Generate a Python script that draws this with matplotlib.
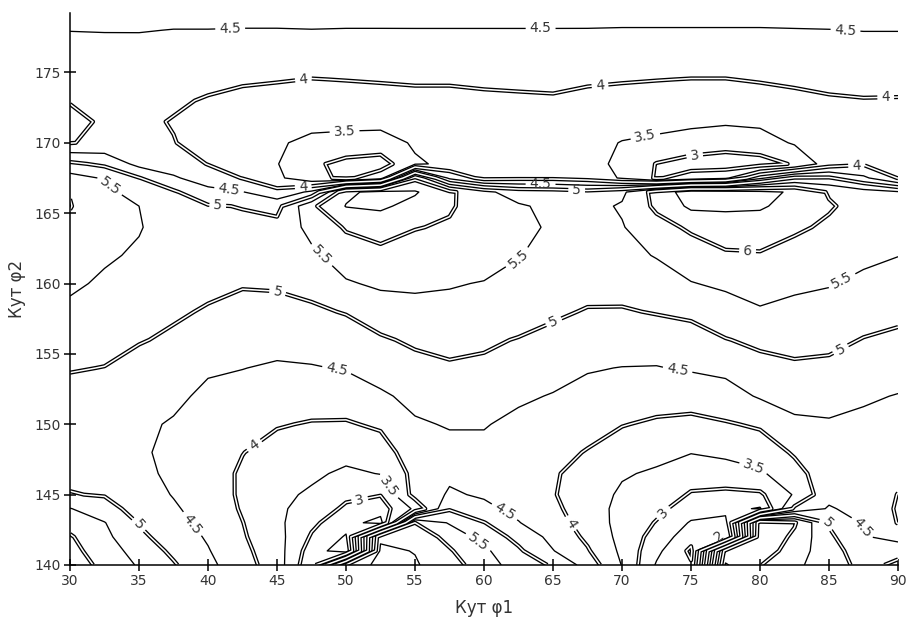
import numpy as np
import matplotlib.pyplot as plt

phi1 = [30, 32.5, 35, 37.5, 40, 42.5, 45, 47.5, 50, 52.5, 55, 57.5, 60,
        62.5, 65, 67.5, 70, 72.5, 75, 77.5, 80, 82.5, 85, 87.5, 90]
phi2 = [140, 141, 142, 143, 144, 145, 146.5, 148, 150, 152, 154, 156, 158,
        160, 162, 164, 165.5, 166.5, 167.5, 168.5, 170, 171.5, 173, 174.5,
        176.5, 178, 179.2]

# one column per phi1 value, from phi2 = 140 up to the top
z_cols = [
    [6.3, 6.15, 6.05, 5.8, 5.52, 5.02, 4.9, 4.8, 4.75, 4.85, 5.03, 5.2, 5.4, 5.58, 5.75, 5.9, 6.02, 5.98, 5.7, 5.1, 3.98, 3.9, 4.02, 4.15, 4.32, 4.51, 4.65],
    [5.85, 5.75, 5.62, 5.52, 5.2, 4.97, 4.85, 4.75, 4.72, 4.82, 4.99, 5.15, 5.3, 5.43, 5.56, 5.65, 5.67, 5.62, 5.45, 4.9, 4.1, 4.05, 4.1, 4.18, 4.34, 4.52, 4.66],
    [5.45, 5.3, 5.12, 4.97, 4.8, 4.68, 4.6, 4.56, 4.6, 4.7, 4.85, 5.03, 5.2, 5.33, 5.44, 5.53, 5.5, 5.3, 5.02, 4.35, 4.12, 4.1, 4.13, 4.2, 4.35, 4.52, 4.66],
    [5.05, 4.9, 4.75, 4.63, 4.55, 4.48, 4.42, 4.4, 4.45, 4.62, 4.78, 4.93, 5.06, 5.17, 5.25, 5.28, 5.2, 5.07, 4.55, 4.3, 4.02, 3.97, 4.08, 4.18, 4.33, 4.49, 4.65],
    [4.62, 4.53, 4.45, 4.38, 4.32, 4.27, 4.2, 4.18, 4.22, 4.38, 4.57, 4.78, 4.96, 5.1, 5.18, 5.15, 5.04, 4.62, 4.3, 3.98, 3.8, 3.78, 3.95, 4.15, 4.33, 4.49, 4.65],
    [4.2, 4.12, 4.05, 4.01, 3.95, 3.92, 3.94, 4.01, 4.15, 4.33, 4.51, 4.72, 4.88, 5.03, 5.12, 5.11, 4.98, 4.52, 3.98, 3.75, 3.62, 3.65, 3.85, 4.07, 4.3, 4.48, 4.65],
    [3.75, 3.72, 3.68, 3.62, 3.6, 3.63, 3.7, 3.85, 4.03, 4.22, 4.44, 4.67, 4.87, 5.05, 5.18, 5.15, 4.85, 4.15, 3.6, 3.52, 3.55, 3.62, 3.82, 4.03, 4.28, 4.48, 4.65],
    [2.6, 2.75, 2.95, 3.1, 3.28, 3.42, 3.6, 3.78, 3.97, 4.2, 4.47, 4.7, 4.92, 5.15, 5.4, 5.65, 5.9, 4.6, 3.15, 3.1, 3.4, 3.62, 3.82, 3.99, 4.28, 4.49, 4.66],
    [6.0, 2.2, 2.45, 2.7, 2.92, 3.1, 3.4, 3.68, 3.95, 4.27, 4.53, 4.75, 5.03, 5.45, 5.75, 6.05, 6.52, 6.4, 2.9, 2.85, 3.35, 3.62, 3.82, 4.01, 4.28, 4.48, 4.66],
    [6.7, 6.6, 6.4, 2.3, 2.75, 3.02, 3.52, 3.75, 4.08, 4.43, 4.7, 4.94, 5.25, 5.58, 5.85, 6.22, 6.58, 6.65, 3.3, 2.75, 3.32, 3.62, 3.85, 4.03, 4.29, 4.48, 4.66],
    [6.55, 6.48, 6.3, 6.0, 3.6, 4.2, 4.15, 4.3, 4.45, 4.62, 4.85, 5.08, 5.35, 5.58, 5.8, 6.02, 6.35, 6.55, 5.9, 3.45, 3.55, 3.7, 3.88, 4.05, 4.3, 4.48, 4.67],
    [6.2, 6.05, 5.85, 5.45, 4.95, 4.55, 4.42, 4.38, 4.53, 4.75, 4.95, 5.12, 5.38, 5.53, 5.75, 5.95, 6.05, 6.1, 4.4, 3.58, 3.62, 3.72, 3.88, 4.05, 4.3, 4.48, 4.67],
    [5.75, 5.6, 5.3, 5.02, 4.6, 4.45, 4.35, 4.38, 4.53, 4.72, 4.93, 5.06, 5.28, 5.48, 5.68, 5.8, 5.78, 5.6, 3.85, 3.7, 3.72, 3.8, 3.92, 4.07, 4.3, 4.48, 4.67],
    [5.25, 5.08, 4.85, 4.52, 4.38, 4.3, 4.25, 4.27, 4.38, 4.58, 4.82, 4.98, 5.18, 5.35, 5.52, 5.65, 5.55, 5.3, 3.9, 3.8, 3.8, 3.85, 3.94, 4.08, 4.3, 4.48, 4.67],
    [4.95, 4.52, 4.35, 4.2, 4.1, 4.03, 4.05, 4.15, 4.3, 4.47, 4.7, 4.88, 5.07, 5.25, 5.35, 5.42, 5.4, 5.25, 3.9, 3.85, 3.82, 3.85, 3.95, 4.1, 4.31, 4.48, 4.67],
    [4.3, 4.05, 3.9, 3.8, 3.75, 3.75, 3.82, 3.97, 4.18, 4.38, 4.53, 4.75, 4.97, 5.15, 5.3, 5.38, 5.35, 5.15, 3.8, 3.62, 3.65, 3.75, 3.9, 4.05, 4.3, 4.48, 4.66],
    [3.48, 3.4, 3.35, 3.33, 3.35, 3.42, 3.55, 3.78, 4.02, 4.25, 4.49, 4.72, 4.96, 5.18, 5.35, 5.47, 5.55, 5.4, 3.45, 3.42, 3.48, 3.68, 3.86, 4.03, 4.29, 4.47, 4.66],
    [2.45, 2.62, 2.8, 2.97, 3.12, 3.25, 3.43, 3.65, 3.93, 4.2, 4.48, 4.73, 5.03, 5.27, 5.53, 5.82, 6.1, 6.2, 2.95, 2.98, 3.42, 3.62, 3.82, 4.01, 4.28, 4.47, 4.66],
    [2.05, 1.9, 2.2, 2.45, 2.75, 2.96, 3.2, 3.52, 3.88, 4.2, 4.55, 4.8, 5.1, 5.48, 5.75, 6.08, 6.6, 6.75, 3.2, 2.8, 3.3, 3.6, 3.82, 3.99, 4.27, 4.47, 4.66],
    [6.55, 6.2, 1.95, 2.35, 2.65, 2.9, 3.25, 3.62, 3.96, 4.3, 4.62, 4.98, 5.3, 5.58, 5.93, 6.28, 6.58, 6.7, 3.4, 2.72, 3.22, 3.56, 3.8, 3.99, 4.27, 4.47, 4.66],
    [6.02, 6.3, 6.4, 6.3, 2.45, 2.92, 3.42, 3.75, 4.06, 4.55, 4.85, 5.1, 5.45, 5.7, 5.95, 6.3, 6.55, 6.6, 4.4, 2.8, 3.28, 3.6, 3.83, 4.03, 4.28, 4.47, 4.66],
    [5.6, 5.75, 5.9, 6.05, 4.1, 3.55, 3.85, 4.05, 4.42, 4.65, 4.93, 5.15, 5.4, 5.57, 5.82, 6.08, 6.35, 6.45, 5.05, 3.05, 3.55, 3.72, 3.88, 4.08, 4.31, 4.48, 4.67],
    [5.25, 5.2, 5.1, 4.95, 4.55, 4.35, 4.25, 4.27, 4.45, 4.68, 4.9, 5.12, 5.32, 5.53, 5.75, 5.92, 6.05, 5.95, 5.05, 3.75, 3.75, 3.82, 3.95, 4.12, 4.33, 4.49, 4.67],
    [4.85, 4.75, 4.55, 4.45, 4.32, 4.27, 4.25, 4.28, 4.4, 4.56, 4.8, 4.98, 5.2, 5.4, 5.6, 5.75, 5.82, 5.7, 4.6, 3.95, 3.85, 3.88, 3.98, 4.13, 4.33, 4.51, 4.68],
    [5.1, 4.85, 4.3, 3.98, 3.95, 3.99, 4.1, 4.2, 4.38, 4.48, 4.7, 4.9, 5.12, 5.3, 5.51, 5.65, 5.7, 5.55, 3.98, 3.9, 3.85, 3.88, 3.97, 4.15, 4.33, 4.51, 4.68],
]

levels_whole = [2, 3, 4, 5, 6]
levels_half = [2.5, 3.5, 4.5, 5.5, 6.5]

# where the reference puts its contour labels (phi1, phi2)
label_spots_whole = [(46.9, 174.6), (68.4, 174.1), (89.1, 173.6),
                     (75.3, 168.7), (87.0, 168.3), (46.9, 166.8),
                     (40.7, 165.5), (66.7, 166.2), (79.1, 162.4),
                     (45.0, 159.3), (65.0, 157.4), (85.8, 155.4),
                     (43.2, 148.7), (65.9, 142.7), (51.0, 144.6),
                     (73.1, 143.6), (77.0, 142.3), (34.9, 142.8),
                     (85.3, 143.2)]
label_spots_half = [(41.6, 178.3), (64.1, 178.2), (86.2, 178.1),
                    (49.9, 170.7), (71.7, 170.4), (41.5, 166.5),
                    (64.1, 167.6), (33.1, 167.2), (48.0, 161.8),
                    (62.4, 161.9), (86.0, 160.1), (49.3, 153.7),
                    (74.0, 153.7), (53.4, 145.8), (79.5, 146.8),
                    (38.7, 142.8), (61.5, 143.8), (88.1, 143.0),
                    (59.7, 141.8)]

Z = np.array(z_cols).T

plt.rcParams['font.family'] = 'DejaVu Sans'
fig = plt.figure(figsize=(9.06, 6.17), dpi=100)
ax = fig.add_axes([0.0773, 0.0843, 0.9139, 0.8941])

fmt = lambda v: f'{v:g}'
txt = '#333333'

cs_h = ax.contour(phi1, phi2, Z, levels=levels_half, colors='k', linewidths=0.95)
cs_w = ax.contour(phi1, phi2, Z, levels=levels_whole, colors='k', linewidths=3.0)
ax.contour(phi1, phi2, Z, levels=levels_whole, colors='white', linewidths=1.1)

ax.clabel(cs_w, fmt=fmt, fontsize=10, colors=txt, inline=True,
          inline_spacing=4, manual=label_spots_whole)
ax.clabel(cs_h, fmt=fmt, fontsize=10, colors=txt, inline=True,
          inline_spacing=4, manual=label_spots_half)

ax.set_xlim(30, 90)
ax.set_ylim(140, 179.2)
ax.set_xticks(range(30, 91, 5))
ax.set_yticks(range(140, 176, 5))
for s in ['top', 'right']:
    ax.spines[s].set_visible(False)
for s in ['left', 'bottom']:
    ax.spines[s].set_linewidth(1.1)
ax.tick_params(direction='inout', length=9, width=1.1, labelsize=10, pad=2,
               labelcolor=txt)
ax.set_xlabel('Кут φ1', fontsize=12, color=txt, labelpad=8)
ax.set_ylabel('Кут φ2', fontsize=12, color=txt, labelpad=6)

fig.savefig('out.png', dpi=100)
